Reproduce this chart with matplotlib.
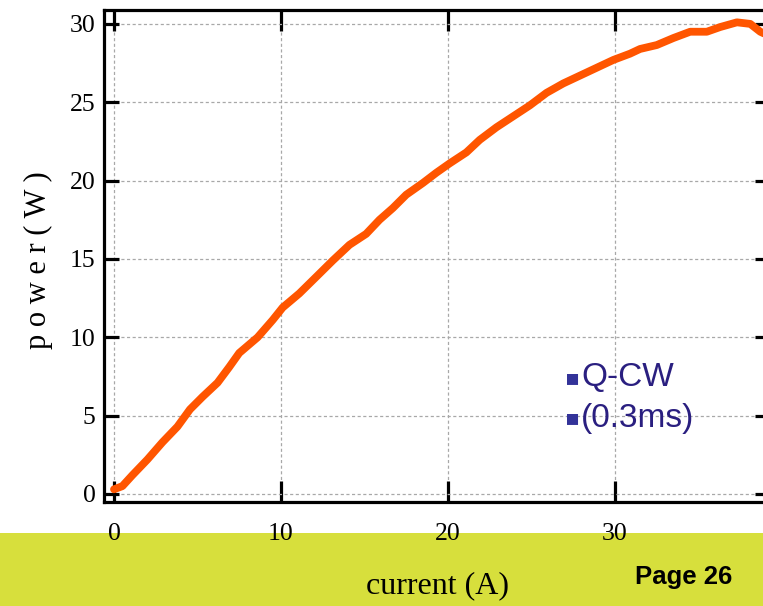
import matplotlib
matplotlib.use("Agg")
import matplotlib.pyplot as plt
from matplotlib.patches import Rectangle

# ---- data ----
current = [0.0, 0.5, 1.1, 2.0, 2.9, 3.8, 4.55, 5.3, 6.2, 6.9, 7.5, 8.6,
           9.5, 10.1, 11.1, 12.15, 13.1, 14.1, 15.1, 15.9, 16.7, 17.5, 18.5,
           19.3, 20.1, 21.1, 21.9, 22.9, 23.9, 24.9, 25.9, 26.9, 27.9, 28.9,
           29.9, 30.9, 31.5, 32.5, 33.5, 34.5, 35.5, 36.3, 37.3, 38.1, 38.7, 39.3]
power = [0.3, 0.5, 1.2, 2.2, 3.3, 4.3, 5.4, 6.2, 7.1, 8.1, 9.0, 10.0,
         11.1, 11.9, 12.8, 13.9, 14.9, 15.9, 16.6, 17.5, 18.25, 19.1, 19.85,
         20.5, 21.1, 21.8, 22.6, 23.4, 24.1, 24.8, 25.6, 26.2, 26.7, 27.2,
         27.7, 28.1, 28.4, 28.65, 29.1, 29.5, 29.5, 29.8, 30.1, 30.0, 29.5, 29.2]

x_ticks = [0, 10, 20, 30]
y_ticks = [0, 5, 10, 15, 20, 25, 30]
legend_lines = ["Q-CW", "(0.3ms)"]

W, H = 763, 606
fig = plt.figure(figsize=(W / 100, H / 100), dpi=100)
fig.patch.set_facecolor("white")

# yellow-green footer band
fig.patches.append(Rectangle((0, 0), 1, (H - 533) / H, transform=fig.transFigure,
                             facecolor="#D7DF3C", edgecolor="none", zorder=-1))

left_px, right_px, top_px, bot_px = 104, 770, 9.5, 502
ax = fig.add_axes([left_px / W, 1 - bot_px / H, (right_px - left_px) / W,
                   (bot_px - top_px) / H])

# pixel mapping: x=0 at 114, 16.7 px/unit ; y=0 at 494, 15.67 px/unit
ax.set_xlim((left_px - 114) / 16.7, (right_px - 114) / 16.7)
ax.set_ylim((494 - bot_px) / 15.67, (494 - top_px) / 15.67)

ax.plot(current, power, color="#FF5500", lw=5.6, solid_capstyle="round",
        solid_joinstyle="round", zorder=3)

ax.set_xticks(x_ticks)
ax.set_yticks(y_ticks)
ax.set_xticklabels([str(v) for v in x_ticks])
ax.set_yticklabels([str(v) for v in y_ticks])

ax.grid(True, color="#a8a8a8", lw=0.9, linestyle=(0, (2.5, 2)))
ax.set_axisbelow(True)

for s in ax.spines.values():
    s.set_linewidth(2.3)
    s.set_color("black")

ax.tick_params(axis="x", direction="in", length=15, width=2.3, top=True,
               bottom=True, pad=15, labelsize=18.5, labelfontfamily="Liberation Serif")
ax.tick_params(axis="y", direction="in", length=11, width=2.3, left=True,
               right=True, pad=6, labelsize=18.5, labelfontfamily="Liberation Serif")

# axis labels
fig.text(38 / W, 1 - 260 / H, "p o w e r ( W )", rotation=90, ha="center",
         va="center", fontsize=22, family="Liberation Serif")
fig.text(437 / W, 1 - 586 / H, "current (A)", ha="center", va="center",
         fontsize=23, family="Liberation Serif")

# legend-like text
for i, t in enumerate(legend_lines):
    yc = 378 + i * 40
    fig.text(573 / W, 1 - yc / H, "\u25aa", ha="center", va="center",
             fontsize=16, color="#333399", family=["DejaVu Sans"])
    fig.text(581 / W, 1 - yc / H, t, ha="left", va="center", fontsize=24,
             color="#2A1F80", family="Liberation Sans")

fig.text(684 / W, 1 - 577 / H, "Page 26", ha="center", va="center",
         fontsize=18.5, fontweight="bold", family="Liberation Sans")

fig.savefig("out.png", dpi=100)
